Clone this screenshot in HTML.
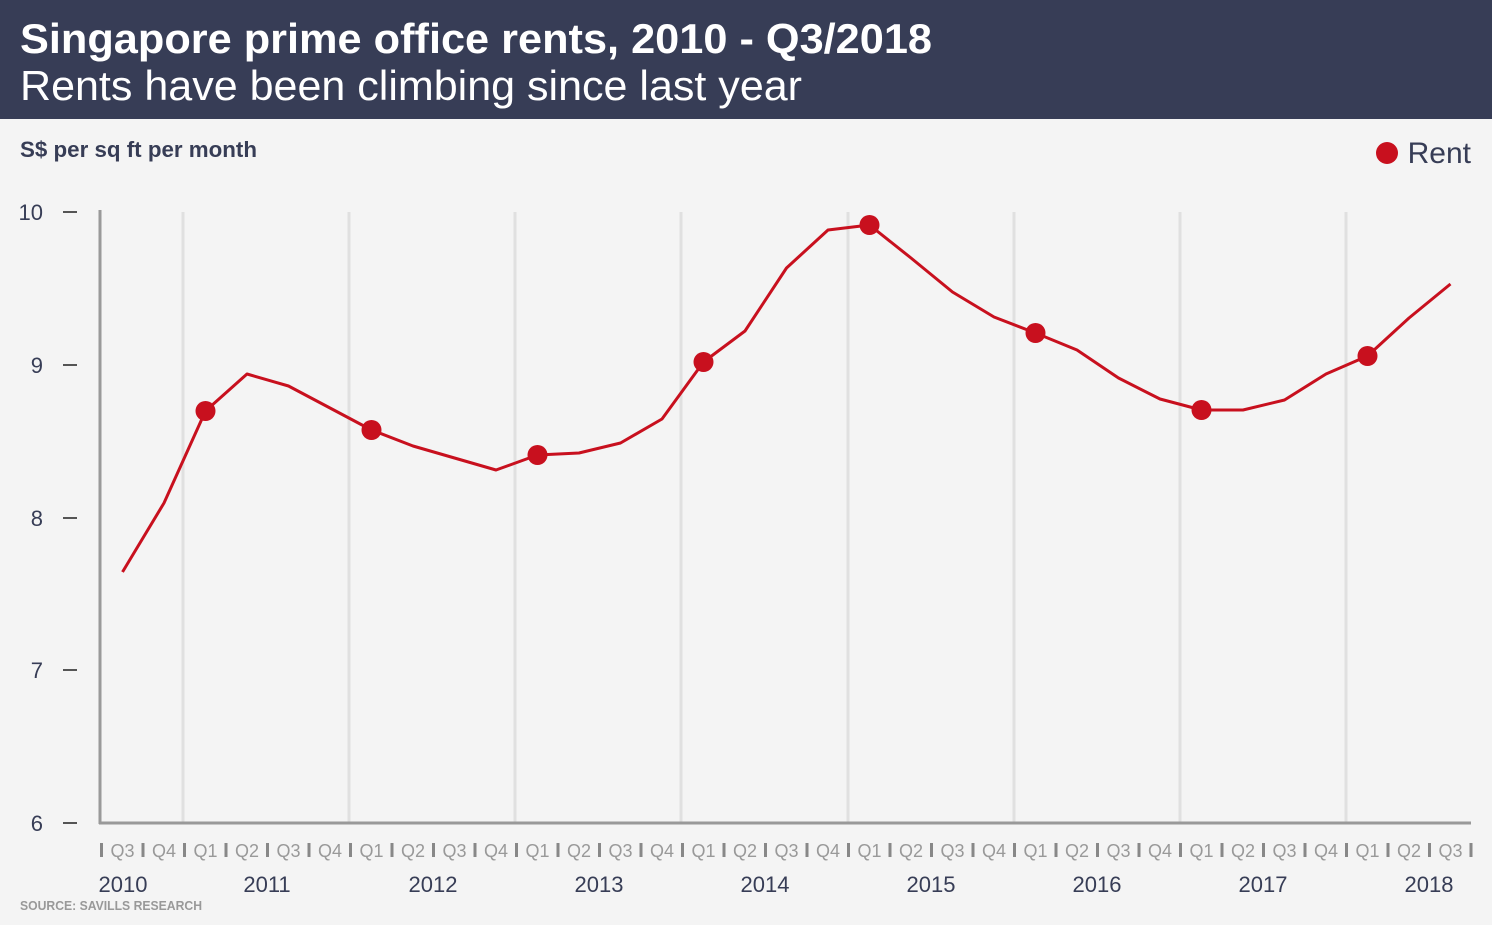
<!DOCTYPE html>
<html><head><meta charset="utf-8"><style>
body{margin:0;width:1492px;height:920px;background:#f4f4f4;overflow:hidden;font-family:"Liberation Sans",sans-serif}
</style></head><body>
<svg width="1492" height="920" xmlns="http://www.w3.org/2000/svg" font-family="Liberation Sans, sans-serif">
<rect x="0" y="0" width="1492" height="119" fill="#373d56"/>
<text x="20" y="53" fill="#fff" font-size="42" font-weight="bold" textLength="912" lengthAdjust="spacingAndGlyphs">Singapore prime office rents, 2010 - Q3/2018</text>
<text x="20" y="100" fill="#fff" font-size="42" textLength="782" lengthAdjust="spacingAndGlyphs">Rents have been climbing since last year</text>
<text x="20" y="157" fill="#373d56" font-size="22" font-weight="bold" textLength="237" lengthAdjust="spacingAndGlyphs">S$ per sq ft per month</text>
<circle cx="1387" cy="153" r="11" fill="#c8101e"/>
<text x="1471" y="163" fill="#373d56" font-size="30" text-anchor="end">Rent</text>
<g stroke="#e0e0e0" stroke-width="3">
<line x1="183" y1="212" x2="183" y2="823"/><line x1="349" y1="212" x2="349" y2="823"/><line x1="515" y1="212" x2="515" y2="823"/><line x1="681" y1="212" x2="681" y2="823"/><line x1="848" y1="212" x2="848" y2="823"/><line x1="1014" y1="212" x2="1014" y2="823"/><line x1="1180" y1="212" x2="1180" y2="823"/><line x1="1346" y1="212" x2="1346" y2="823"/>
</g>
<g stroke="#999" stroke-width="3"><line x1="100" y1="210" x2="100" y2="824"/><line x1="99" y1="823" x2="1471" y2="823"/></g>
<g stroke="#555" stroke-width="2"><line x1="63" y1="212" x2="77" y2="212"/><line x1="63" y1="365" x2="77" y2="365"/><line x1="63" y1="518" x2="77" y2="518"/><line x1="63" y1="670" x2="77" y2="670"/><line x1="63" y1="823" x2="77" y2="823"/></g>
<g fill="#373d56" font-size="22" text-anchor="end"><text x="43" y="220">10</text><text x="43" y="373">9</text><text x="43" y="526">8</text><text x="43" y="678">7</text><text x="43" y="831">6</text></g>
<polyline fill="none" stroke="#c8101e" stroke-width="3" stroke-linejoin="round" points="122.5,572 164,503 205.5,411 247,374 288.5,386 330,408 371.5,430 413,446 454.5,458 496,470 537.5,455 579,453 620.5,443 662,419 703.5,362 745,331 786.5,268 828,230 869.5,225 911,258 952.5,292 994,317 1035.5,333 1077,350 1118.5,378 1160,399 1201.5,410 1243,410 1284.5,400 1326,374 1367.5,356 1409,318 1450.5,284"/>
<g fill="#c8101e"><circle cx="205.5" cy="411" r="10"/><circle cx="371.5" cy="430" r="10"/><circle cx="537.5" cy="455" r="10"/><circle cx="703.5" cy="362" r="10"/><circle cx="869.5" cy="225" r="10"/><circle cx="1035.5" cy="333" r="10"/><circle cx="1201.5" cy="410" r="10"/><circle cx="1367.5" cy="356" r="10"/></g>
<g fill="#888">
<rect x="100" y="843" width="3" height="14"/><rect x="141.5" y="843" width="3" height="14"/><rect x="183" y="843" width="3" height="14"/><rect x="224.5" y="843" width="3" height="14"/><rect x="266" y="843" width="3" height="14"/><rect x="307.5" y="843" width="3" height="14"/><rect x="349" y="843" width="3" height="14"/><rect x="390.5" y="843" width="3" height="14"/><rect x="432" y="843" width="3" height="14"/><rect x="473.5" y="843" width="3" height="14"/><rect x="515" y="843" width="3" height="14"/><rect x="556.5" y="843" width="3" height="14"/><rect x="598" y="843" width="3" height="14"/><rect x="639.5" y="843" width="3" height="14"/><rect x="681" y="843" width="3" height="14"/><rect x="722.5" y="843" width="3" height="14"/><rect x="764" y="843" width="3" height="14"/><rect x="805.5" y="843" width="3" height="14"/><rect x="847" y="843" width="3" height="14"/><rect x="888.5" y="843" width="3" height="14"/><rect x="930" y="843" width="3" height="14"/><rect x="971.5" y="843" width="3" height="14"/><rect x="1013" y="843" width="3" height="14"/><rect x="1054.5" y="843" width="3" height="14"/><rect x="1096" y="843" width="3" height="14"/><rect x="1137.5" y="843" width="3" height="14"/><rect x="1179" y="843" width="3" height="14"/><rect x="1220.5" y="843" width="3" height="14"/><rect x="1262" y="843" width="3" height="14"/><rect x="1303.5" y="843" width="3" height="14"/><rect x="1345" y="843" width="3" height="14"/><rect x="1386.5" y="843" width="3" height="14"/><rect x="1428" y="843" width="3" height="14"/><rect x="1469.5" y="843" width="3" height="14"/>
</g>
<g fill="#999" font-size="18" text-anchor="middle">
<text x="122.5" y="857">Q3</text><text x="164" y="857">Q4</text><text x="205.5" y="857">Q1</text><text x="247" y="857">Q2</text><text x="288.5" y="857">Q3</text><text x="330" y="857">Q4</text><text x="371.5" y="857">Q1</text><text x="413" y="857">Q2</text><text x="454.5" y="857">Q3</text><text x="496" y="857">Q4</text><text x="537.5" y="857">Q1</text><text x="579" y="857">Q2</text><text x="620.5" y="857">Q3</text><text x="662" y="857">Q4</text><text x="703.5" y="857">Q1</text><text x="745" y="857">Q2</text><text x="786.5" y="857">Q3</text><text x="828" y="857">Q4</text><text x="869.5" y="857">Q1</text><text x="911" y="857">Q2</text><text x="952.5" y="857">Q3</text><text x="994" y="857">Q4</text><text x="1035.5" y="857">Q1</text><text x="1077" y="857">Q2</text><text x="1118.5" y="857">Q3</text><text x="1160" y="857">Q4</text><text x="1201.5" y="857">Q1</text><text x="1243" y="857">Q2</text><text x="1284.5" y="857">Q3</text><text x="1326" y="857">Q4</text><text x="1367.5" y="857">Q1</text><text x="1409" y="857">Q2</text><text x="1450.5" y="857">Q3</text>
</g>
<g fill="#373d56" font-size="22" text-anchor="middle">
<text x="123" y="892">2010</text><text x="267" y="892">2011</text><text x="433" y="892">2012</text><text x="599" y="892">2013</text><text x="765" y="892">2014</text><text x="931" y="892">2015</text><text x="1097" y="892">2016</text><text x="1263" y="892">2017</text><text x="1429" y="892">2018</text>
</g>
<text x="20" y="910" fill="#999" font-size="13" font-weight="bold" textLength="182" lengthAdjust="spacingAndGlyphs">SOURCE: SAVILLS RESEARCH</text>
</svg>
</body></html>
